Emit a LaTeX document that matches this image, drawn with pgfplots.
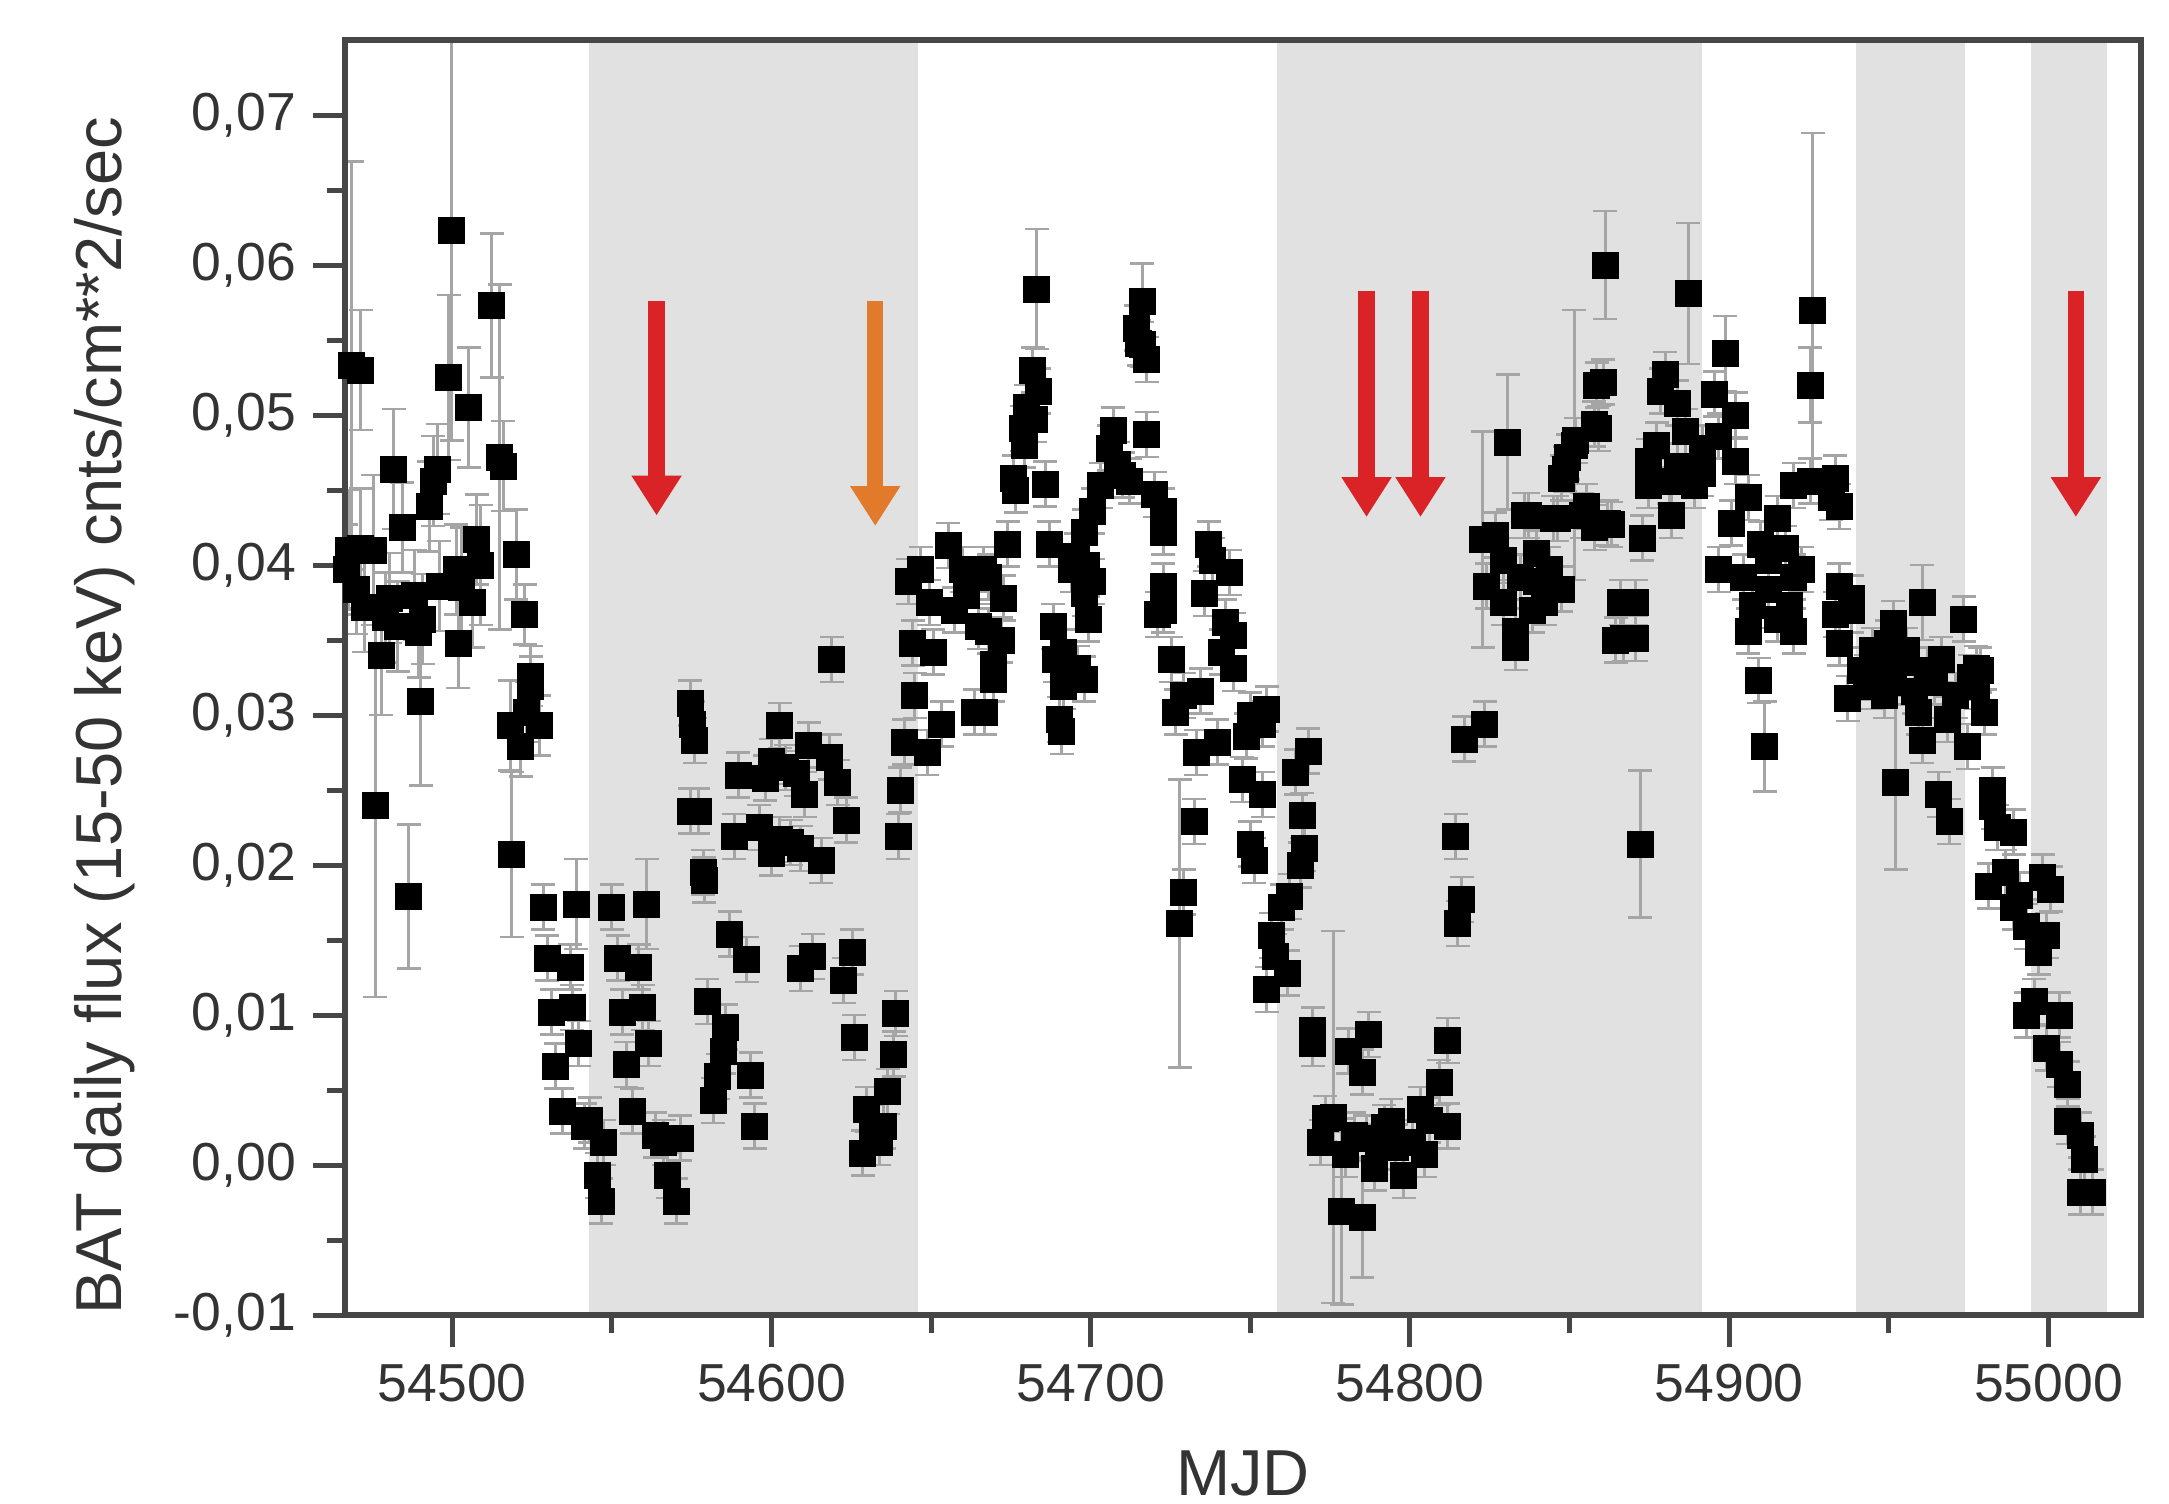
\documentclass[border=0pt]{standalone}
\usepackage{fontspec}
\setmainfont{Liberation Sans}
\usepackage{pgfplots}
\usepackage{pgfplotstable}
\pgfplotsset{compat=1.18}
\usetikzlibrary{arrows.meta}
\definecolor{shade}{RGB}{225,225,225}
\definecolor{arrred}{RGB}{218,35,38}
\definecolor{arrorange}{RGB}{226,122,44}
\definecolor{errgray}{RGB}{165,165,165}
\definecolor{axgray}{RGB}{70,70,70}

\pgfplotstableread{
x y e
54466.8 0.0397 0.003
54467.4 0.0410 0.004
54468.5 0.0533 0.0136
54470.0 0.0384 0.003
54471.3 0.0530 0.004
54471.3 0.0411 0.004
54472.5 0.0372 0.003
54475.2 0.0410 0.005
54475.9 0.0240 0.0128
54477.8 0.0340 0.004
54479.0 0.0365 0.003
54480.4 0.0378 0.003
54481.7 0.0464 0.004
54483.0 0.0359 0.003
54484.3 0.0425 0.003
54486.3 0.0179 0.0048
54488.2 0.0380 0.003
54489.5 0.0355 0.003
54490.2 0.0309 0.0056
54490.8 0.0364 0.003
54492.8 0.0439 0.003
54494.0 0.0456 0.003
54495.4 0.0464 0.003
54496.0 0.0386 0.003
54498.9 0.0525 0.0055
54499.9 0.0623 0.014
54501.2 0.0397 0.003
54501.9 0.0348 0.003
54503.0 0.0385 0.004
54505.1 0.0505 0.004
54506.4 0.0375 0.003
54507.7 0.0417 0.003
54509.0 0.0400 0.004
54512.3 0.0573 0.0048
54514.9 0.0472 0.0115
54516.0 0.0466 0.003
54518.1 0.0293 0.003
54518.7 0.0207 0.0055
54520.0 0.0407 0.003
54521.4 0.0279 0.002
54522.7 0.0367 0.002
54523.3 0.0302 0.002
54524.6 0.0326 0.002
54524.6 0.0319 0.002
54527.2 0.0293 0.002
54528.5 0.0172 0.0015
54529.8 0.0138 0.0015
54531.1 0.0102 0.0015
54532.4 0.0066 0.0015
54534.4 0.0036 0.0015
54537.0 0.0132 0.0015
54537.6 0.0105 0.0015
54538.9 0.0174 0.003
54539.6 0.0081 0.0015
54541.5 0.0026 0.0015
54543.0 0.0030 0.0015
54545.4 -0.0007 0.0015
54546.7 -0.0024 0.0015
54547.4 0.0015 0.0015
54550.0 0.0172 0.0015
54551.9 0.0138 0.0015
54553.2 0.0102 0.0015
54554.5 0.0067 0.0015
54556.4 0.0036 0.0015
54558.4 0.0132 0.0015
54559.7 0.0105 0.0015
54561.0 0.0174 0.003
54561.6 0.0081 0.0015
54563.6 0.0020 0.0015
54566.2 0.0015 0.0015
54567.5 -0.0007 0.0015
54570.1 -0.0024 0.0015
54571.4 0.0018 0.0015
54574.6 0.0308 0.0015
54575.3 0.0294 0.0015
54576.0 0.0283 0.0015
54574.6 0.0236 0.0015
54577.0 0.0236 0.0015
54578.6 0.0195 0.0015
54579.0 0.0190 0.0015
54579.9 0.0109 0.0015
54581.8 0.0043 0.0015
54583.1 0.0059 0.0015
54585.1 0.0076 0.0015
54585.7 0.0092 0.0015
54587.0 0.0154 0.0015
54588.3 0.0219 0.0015
54589.6 0.0260 0.0015
54592.2 0.0137 0.0015
54593.5 0.0060 0.0015
54594.8 0.0026 0.0015
54596.1 0.0225 0.0015
54598.0 0.0258 0.0015
54600.0 0.0269 0.0015
54600.0 0.0208 0.0015
54602.6 0.0293 0.0015
54602.6 0.0217 0.0015
54604.5 0.0265 0.0015
54606.0 0.0215 0.0015
54607.8 0.0261 0.0015
54609.1 0.0211 0.0015
54609.1 0.0131 0.0015
54610.4 0.0247 0.0015
54611.7 0.0280 0.0015
54613.0 0.0139 0.0015
54615.6 0.0203 0.0015
54618.2 0.0272 0.0015
54618.9 0.0337 0.0015
54620.8 0.0255 0.0015
54622.7 0.0123 0.0015
54623.4 0.0230 0.0015
54625.3 0.0142 0.0015
54626.0 0.0085 0.0015
54628.6 0.0008 0.0015
54629.9 0.0037 0.0015
54631.5 0.0025 0.0015
54633.8 0.0015 0.0015
54635.1 0.0026 0.0015
54636.4 0.0049 0.0015
54638.3 0.0074 0.0015
54639.0 0.0101 0.0015
54639.7 0.0219 0.0015
54640.3 0.0250 0.0015
54641.6 0.0282 0.0015
54644.9 0.0313 0.0015
54642.9 0.0389 0.0015
54644.2 0.0348 0.0015
54646.8 0.0397 0.0015
54648.8 0.0275 0.0015
54649.4 0.0375 0.0015
54650.7 0.0342 0.0015
54653.3 0.0294 0.0015
54655.3 0.0413 0.0015
54657.2 0.0370 0.0015
54659.8 0.0397 0.0015
54661.0 0.0380 0.0015
54663.7 0.0302 0.0015
54665.0 0.0359 0.0015
54666.3 0.0397 0.0015
54666.8 0.0302 0.0015
54668.1 0.0392 0.0015
54668.1 0.0356 0.0015
54669.4 0.0334 0.0015
54669.4 0.0324 0.0015
54672.0 0.0350 0.0015
54672.7 0.0378 0.0015
54674.0 0.0414 0.0015
54675.9 0.0458 0.0015
54676.5 0.0450 0.0015
54678.5 0.0491 0.0015
54679.2 0.0480 0.0015
54679.8 0.0505 0.0015
54681.8 0.0530 0.0015
54682.4 0.0497 0.0015
54683.1 0.0584 0.004
54683.7 0.0516 0.0015
54685.7 0.0454 0.0015
54687.0 0.0414 0.0015
54688.3 0.0359 0.0015
54688.9 0.0337 0.0015
54690.2 0.0297 0.0015
54690.9 0.0289 0.0015
54691.5 0.0319 0.0015
54691.5 0.0342 0.0015
54694.1 0.0397 0.0015
54695.4 0.0406 0.0015
54696.0 0.0331 0.0015
54698.0 0.0324 0.0015
54698.0 0.0422 0.0015
54698.0 0.0381 0.0015
54698.6 0.0400 0.0015
54699.3 0.0364 0.0015
54700.6 0.0436 0.0015
54700.6 0.0389 0.0015
54703.2 0.0453 0.0015
54705.8 0.0478 0.0015
54707.1 0.0490 0.0015
54708.4 0.0467 0.0015
54710.0 0.0460 0.0015
54712.3 0.0456 0.0015
54714.3 0.0558 0.0015
54715.0 0.0548 0.0015
54716.2 0.0576 0.0025
54716.2 0.0547 0.0015
54717.5 0.0537 0.0015
54717.5 0.0487 0.0015
54720.1 0.0447 0.0015
54720.8 0.0367 0.0015
54722.7 0.0436 0.0015
54722.7 0.0422 0.0015
54722.7 0.0386 0.0015
54722.7 0.0370 0.0015
54725.3 0.0337 0.0015
54726.6 0.0302 0.0015
54727.9 0.0161 0.0096
54729.2 0.0313 0.0015
54729.2 0.0182 0.0015
54732.5 0.0229 0.0015
54733.1 0.0275 0.0015
54734.4 0.0316 0.0015
54735.7 0.0381 0.0015
54737.0 0.0414 0.0015
54738.3 0.0403 0.0015
54739.6 0.0282 0.0015
54740.9 0.0342 0.0015
54742.2 0.0362 0.0015
54743.5 0.0395 0.0015
54744.8 0.0353 0.0015
54744.8 0.0331 0.0015
54747.4 0.0257 0.0015
54748.7 0.0286 0.0015
54750.0 0.0300 0.0015
54750.0 0.0214 0.0015
54751.3 0.0203 0.0015
54753.9 0.0294 0.0015
54753.9 0.0247 0.0015
54755.2 0.0304 0.0015
54755.2 0.0117 0.0015
54756.5 0.0153 0.0015
54757.8 0.0139 0.0015
54759.8 0.0172 0.0015
54761.7 0.0128 0.0015
54762.4 0.0179 0.0015
54764.3 0.0262 0.0015
54765.6 0.0200 0.0015
54766.2 0.0233 0.0015
54766.9 0.0211 0.0015
54768.2 0.0276 0.0015
54769.5 0.0090 0.0015
54769.5 0.0081 0.0015
54772.1 0.0015 0.0015
54773.4 0.0031 0.0015
54776.0 0.0032 0.0124
54778.6 -0.0031 0.0062
54779.9 0.0007 0.0015
54780.6 0.0076 0.0015
54782.5 0.0020 0.0015
54785.1 0.0062 0.0015
54785.1 -0.0035 0.004
54786.4 0.0018 0.0015
54787.1 0.0087 0.0015
54789.0 -0.0002 0.0015
54790.3 0.0012 0.0015
54792.0 0.0025 0.0015
54794.2 0.0029 0.0015
54795.5 0.0012 0.0015
54798.1 -0.0007 0.0015
54800.7 0.0015 0.0015
54803.3 0.0037 0.0015
54804.6 0.0007 0.0015
54806.0 0.0030 0.0015
54809.2 0.0055 0.0015
54811.8 0.0083 0.0015
54811.8 0.0026 0.0015
54814.4 0.0219 0.0015
54815.0 0.0161 0.0015
54816.3 0.0177 0.0015
54817.0 0.0284 0.0015
54823.5 0.0294 0.0015
54822.8 0.0417 0.0072
54824.1 0.0386 0.0015
54826.7 0.0420 0.0015
54829.3 0.0403 0.0015
54829.3 0.0375 0.0015
54830.6 0.0482 0.0045
54833.2 0.0356 0.0015
54833.2 0.0345 0.0015
54834.5 0.0392 0.0015
54835.8 0.0433 0.0015
54837.0 0.0433 0.0015
54838.4 0.0370 0.0015
54839.6 0.0389 0.0015
54839.7 0.0408 0.0015
54842.2 0.0375 0.0015
54843.6 0.0397 0.0015
54844.9 0.0431 0.0015
54846.1 0.0431 0.0015
54847.4 0.0384 0.0015
54847.5 0.0458 0.0015
54848.7 0.0464 0.0015
54849.5 0.0472 0.0015
54851.4 0.0480 0.009
54851.9 0.0483 0.0015
54853.9 0.0433 0.0015
54855.3 0.0439 0.0015
54857.8 0.0494 0.0015
54857.9 0.0425 0.0015
54858.5 0.0520 0.0015
54859.2 0.0491 0.0015
54860.5 0.0522 0.0015
54861.1 0.0600 0.0036
54861.8 0.0428 0.0015
54863.0 0.0427 0.0015
54864.4 0.0350 0.0015
54866.0 0.0375 0.0015
54866.9 0.0351 0.0015
54870.8 0.0375 0.0015
54870.8 0.0351 0.0015
54872.1 0.0214 0.0049
54872.8 0.0418 0.0015
54874.7 0.0469 0.0015
54874.7 0.0453 0.0015
54877.3 0.0480 0.0015
54878.6 0.0516 0.0015
54879.9 0.0527 0.0015
54881.2 0.0456 0.0015
54881.9 0.0433 0.0015
54883.8 0.0508 0.0015
54883.8 0.0466 0.0015
54886.4 0.0489 0.0015
54887.1 0.0581 0.0047
54889.0 0.0453 0.0015
54891.6 0.0478 0.0015
54891.6 0.0461 0.0015
54895.5 0.0514 0.0015
54896.8 0.0486 0.0015
54896.8 0.0397 0.0015
54898.8 0.0541 0.0025
54900.7 0.0428 0.0015
54902.0 0.0500 0.0015
54902.0 0.0469 0.0015
54904.6 0.0392 0.0015
54905.9 0.0445 0.0015
54905.9 0.0356 0.0015
54907.2 0.0373 0.0015
54909.2 0.0323 0.0015
54909.8 0.0414 0.0015
54911.1 0.0279 0.003
54912.4 0.0403 0.0015
54912.4 0.0384 0.0015
54915.0 0.0431 0.0015
54915.0 0.0364 0.0015
54917.6 0.0411 0.0015
54919.0 0.0373 0.0015
54920.2 0.0453 0.0015
54920.2 0.0392 0.0015
54920.2 0.0356 0.0015
54922.8 0.0397 0.0015
54925.4 0.0520 0.0025
54925.4 0.0456 0.0015
54926.1 0.0570 0.0118
54931.9 0.0445 0.0015
54933.2 0.0458 0.0015
54933.2 0.0367 0.0015
54934.5 0.0439 0.0015
54934.5 0.0386 0.0015
54934.5 0.0348 0.0015
54937.1 0.0311 0.0015
54938.4 0.0378 0.0015
54938.4 0.0370 0.0015
54941.0 0.0330 0.0015
54943.0 0.0325 0.0015
54944.9 0.0343 0.0015
54944.9 0.0319 0.0015
54947.0 0.0330 0.0015
54948.8 0.0313 0.0015
54949.5 0.0348 0.0015
54951.4 0.0361 0.0015
54951.4 0.0322 0.0015
54952.1 0.0255 0.0058
54954.0 0.0335 0.0015
54955.5 0.0343 0.0015
54957.9 0.0316 0.0015
54959.2 0.0302 0.0015
54960.5 0.0375 0.0025
54960.5 0.0283 0.0015
54962.0 0.0330 0.0015
54964.4 0.0322 0.0015
54965.7 0.0247 0.0015
54966.5 0.0337 0.0015
54968.3 0.0297 0.0015
54969.0 0.0229 0.0015
54970.9 0.0313 0.0015
54973.5 0.0364 0.0015
54974.8 0.0279 0.0015
54975.5 0.0325 0.0015
54977.4 0.0319 0.0015
54977.4 0.0331 0.0015
54978.7 0.0330 0.0015
54980.0 0.0302 0.0015
54981.3 0.0186 0.0015
54982.6 0.0250 0.0015
54982.6 0.0239 0.0015
54984.0 0.0225 0.0015
54986.5 0.0195 0.0015
54989.1 0.0222 0.0015
54989.1 0.0172 0.0015
54991.0 0.0180 0.0015
54993.0 0.0159 0.0015
54993.0 0.0100 0.0015
54995.6 0.0109 0.0015
54996.9 0.0142 0.0015
54998.2 0.0192 0.0015
54999.5 0.0153 0.0015
54999.5 0.0078 0.0015
55000.8 0.0184 0.0015
55003.4 0.0100 0.0015
55003.4 0.0067 0.0015
55006.0 0.0054 0.0015
55006.0 0.0029 0.0015
55009.9 0.0020 0.0015
55011.2 0.0004 0.0015
55009.9 -0.0018 0.0015
55013.8 -0.0018 0.0015
}\bat

\begin{document}
\begin{tikzpicture}
\useasboundingbox (-69pt,-37.6pt) rectangle (364.8pt,263pt);
\begin{axis}[
  at={(0,0)}, anchor=south west,
  scale only axis, width=359.2pt, height=255pt,
  xmin=54466.4, xmax=55029, ymin=-0.01, ymax=0.075,
  axis on top,
  scaled x ticks=false, scaled y ticks=false,
  xtick={54500,54600,54700,54800,54900,55000},
  ytick={-0.01,0,0.01,0.02,0.03,0.04,0.05,0.06,0.07},
  minor x tick num=1, minor y tick num=1,
  tick align=outside, tick pos=left,
  major tick length=6.3pt, minor tick length=3.6pt,
  every tick/.style={axgray, line width=1pt},
  axis line style={axgray, line width=1.2pt},
  x tick label style={/pgf/number format/fixed, /pgf/number format/precision=0, /pgf/number format/set thousands separator={}, /pgf/number format/assume math mode=true},
  y tick label style={/pgf/number format/fixed, /pgf/number format/fixed zerofill, /pgf/number format/precision=2, /pgf/number format/use comma, /pgf/number format/assume math mode=true},
  tick label style={font=\fontsize{10.7}{12}\selectfont, text=black!80},
  xlabel={MJD},
  ylabel={BAT daily flux (15-50 keV) cnts/cm**2/sec},
  label style={font=\fontsize{13}{15}\selectfont, text=black!80},
  xlabel style={at={(axis description cs:0.5,0)}, anchor=north, yshift=-27pt, inner sep=0pt},
  ylabel style={at={(axis description cs:-0.1336,0.47)}, anchor=center, inner sep=0pt},
]
\addplot[fill=shade, draw=none, forget plot] coordinates {(54542.7,-0.01) (54645.8,-0.01) (54645.8,0.075) (54542.7,0.075)} -- cycle;
\addplot[fill=shade, draw=none, forget plot] coordinates {(54758.5,-0.01) (54891.4,-0.01) (54891.4,0.075) (54758.5,0.075)} -- cycle;
\addplot[fill=shade, draw=none, forget plot] coordinates {(54939.8,-0.01) (54973.8,-0.01) (54973.8,0.075) (54939.8,0.075)} -- cycle;
\addplot[fill=shade, draw=none, forget plot] coordinates {(54994.5,-0.01) (55018.4,-0.01) (55018.4,0.075) (54994.5,0.075)} -- cycle;

\addplot[only marks, mark=square*, mark size=2.5pt, mark options={fill=black, draw=black},
  error bars/.cd, y dir=both, y explicit,
  error bar style={errgray, line width=0.6pt},
  error mark options={rotate=90, errgray, mark size=2.4pt, line width=0.5pt}]
  table[x=x, y=y, y error=e]{\bat};

\draw[arrred, line width=3.3pt, -{Triangle[width=9.5pt, length=8pt]}] (axis cs:54564,0.0576) -- (axis cs:54564,0.0433);
\draw[arrorange, line width=3.3pt, -{Triangle[width=9.5pt, length=8pt]}] (axis cs:54632.5,0.0576) -- (axis cs:54632.5,0.0426);
\draw[arrred, line width=3.3pt, -{Triangle[width=9.5pt, length=8pt]}] (axis cs:54786.4,0.0583) -- (axis cs:54786.4,0.0432);
\draw[arrred, line width=3.3pt, -{Triangle[width=9.5pt, length=8pt]}] (axis cs:54803.3,0.0583) -- (axis cs:54803.3,0.0432);
\draw[arrred, line width=3.3pt, -{Triangle[width=9.5pt, length=8pt]}] (axis cs:55008.6,0.0583) -- (axis cs:55008.6,0.0432);
\end{axis}
\end{tikzpicture}
\end{document}
